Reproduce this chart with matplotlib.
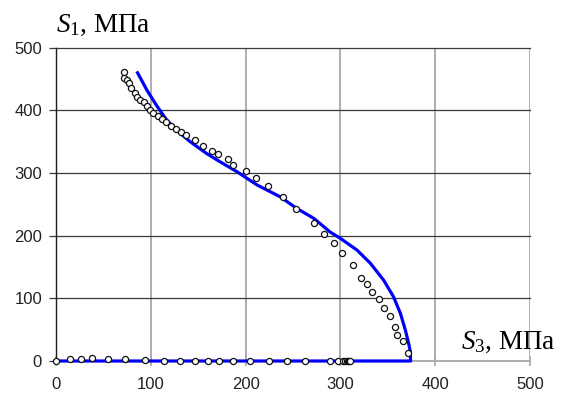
import matplotlib
matplotlib.use("Agg")
import matplotlib.pyplot as plt

plt.rcParams['mathtext.fontset'] = 'custom'
plt.rcParams['mathtext.rm'] = 'Liberation Serif'
plt.rcParams['mathtext.it'] = 'Liberation Serif:italic'

# Experimental points (S3, S1), MPa
s3_exp = [71.8, 71.8, 75.3, 77.4, 78.9, 83.4, 85.9, 88.7, 92.9, 95.8, 99.3, 102.8,
          108.0, 111.6, 116.0, 121.0, 126.7, 132.0, 137.3, 146.8, 155.5, 164.4,
          171.4, 181.5, 187.2, 200.5, 211.2, 223.5, 239.4, 252.7, 271.7, 283.0,
          292.8, 301.7, 313.0, 322.0, 328.0, 333.0, 340.7, 345.6, 352.7, 358.0,
          359.8, 365.7, 371.0,
          0.0, 15.0, 26.0, 38.5, 54.7, 72.5, 93.6, 114.0, 131.0, 147.0, 160.0,
          172.0, 187.0, 204.5, 224.5, 244.0, 263.0, 289.4, 297.0, 303.0, 305.0,
          306.5, 308.0, 309.0, 310.0]
s1_exp = [461, 452, 449, 443, 435, 428.5, 421.5, 417, 413.5, 406.7, 400, 396,
          390.7, 387, 381.7, 374.8, 371, 365.7, 360.3, 352.5, 343.4, 335,
          330, 322, 312.6, 303.5, 292.4, 279, 261.6, 242.4, 220.6, 202,
          187.7, 172, 153.5, 132.5, 122.8, 109.5, 98.4, 85, 71.8, 54.7,
          41.5, 32.4, 12.8,
          0, 3, 3, 5, 3, 3, 1, 0, 0, 0, 0,
          0, 0, 0, 0, 0, 0, 0, 0, 0, 0,
          0, 0, 0, 0]

# Computed limit curve (S3, S1), MPa
s3_fit = [86, 96, 106, 117, 129, 141.5, 159, 173, 191, 212, 236.5, 254, 272,
          289, 300, 317.5, 331.6, 345.6, 356, 363.3, 368.5, 372, 373.8, 374, 0]
s1_fit = [460, 432, 408, 384, 366, 350, 331, 318, 302, 281, 262, 243.5, 227.6,
          206, 195.7, 177, 156, 129, 102.6, 76, 49.4, 28, 14.8, 0, 0]

x_ticks = [0, 100, 200, 300, 400, 500]
y_ticks = [0, 100, 200, 300, 400, 500]

fig = plt.figure(figsize=(5.64, 3.98), dpi=100)
ax = fig.add_axes([56 / 564, 37 / 398, 474 / 564, 313.3 / 398])

ax.set_xlim(0, 500)
ax.set_ylim(0, 500)
ax.set_xticks(x_ticks)
ax.set_yticks(y_ticks)

for t in y_ticks:
    if t > 0:
        ax.axhline(t, color='#3a3a3a', lw=0.9, zorder=1, clip_on=False)
for t in x_ticks:
    if t > 0:
        ax.axvline(t, color='#a8a8a8', lw=1.3, zorder=0.9)

ax.spines['top'].set_visible(False)
ax.spines['right'].set_visible(False)
ax.spines['left'].set_color('#1a1a1a')
ax.spines['left'].set_linewidth(1.0)
ax.spines['bottom'].set_color('#a8a8a8')
ax.spines['bottom'].set_linewidth(1.3)

ax.tick_params(axis='y', direction='out', length=5, width=0.9, color='#3a3a3a',
               pad=5, labelsize=12, labelcolor='#222222')
ax.tick_params(axis='x', direction='inout', length=7, width=1.2, color='#a8a8a8',
               pad=8, labelsize=12, labelcolor='#222222')
for lab in ax.get_xticklabels() + ax.get_yticklabels():
    lab.set_fontfamily('Liberation Sans')

ax.plot(s3_fit, s1_fit, color='#0000ff', lw=2.3, zorder=3, clip_on=False,
        solid_joinstyle='round')
ax.plot(s3_exp, s1_exp, linestyle='none', marker='o', markersize=4.4,
        markerfacecolor='white', markeredgecolor='#111111', markeredgewidth=0.9,
        zorder=4, clip_on=False)

fig.text(56 / 564, 1 - 32 / 398, r'$S_1$, МПа', fontsize=19.5,
         fontfamily='Liberation Serif', ha='left', va='baseline')
fig.text(461 / 564, 1 - 349 / 398, r'$S_3$, МПа', fontsize=19.5,
         fontfamily='Liberation Serif', ha='left', va='baseline')

fig.savefig('out.png', dpi=100)
